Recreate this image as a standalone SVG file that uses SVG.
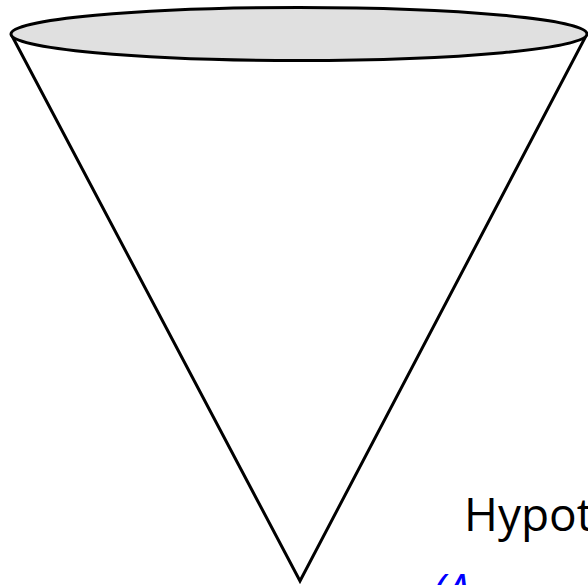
<svg xmlns="http://www.w3.org/2000/svg" width="588" height="585" viewBox="0 0 588 585">
<style>
.edge{fill:none;stroke:#000;stroke-width:3;stroke-linejoin:miter}
.lbl{font-family:"Open Sans","Liberation Sans",Arial,sans-serif;font-size:46px}
</style>
<rect width="588" height="585" fill="#fff"/>
<g id="cone">
<path class="edge" d="M11,34 L300,581 L587,34"/>
<ellipse cx="299" cy="34" rx="288" ry="26.5" fill="#e0e0e0" stroke="#000" stroke-width="3"/>
</g>
<g id="labels">
<text class="lbl" x="464" y="531" fill="#000">Hypot</text>
<text class="lbl" x="432" y="607" fill="#0000ff" font-style="italic">(A</text>
</g>
</svg>
